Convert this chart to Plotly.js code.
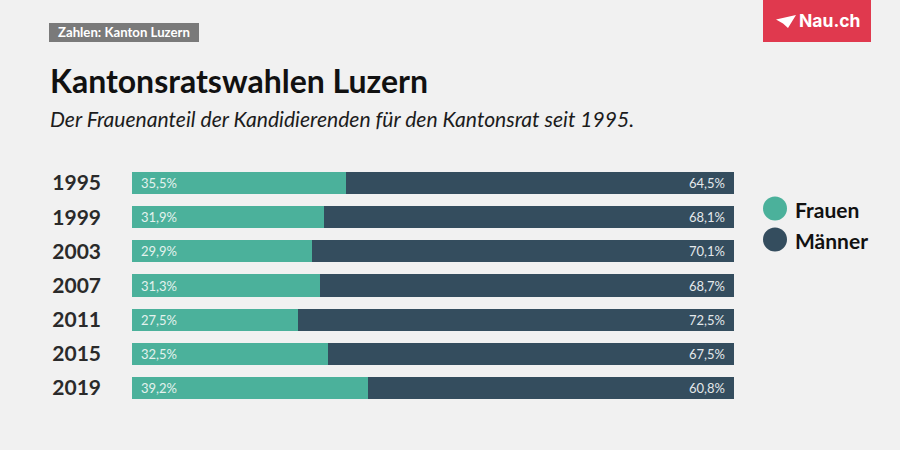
<!DOCTYPE html>
<html><head><meta charset="utf-8">
<script src="https://cdn.plot.ly/plotly-3.0.1.min.js"></script>
<style>html,body{margin:0;padding:0;background:#f1f1f1}</style></head>
<body><div id="chart" style="width:900px;height:450px"></div>
<script>
const years = ['1995','1999','2003','2007','2011','2015','2019'];
const frauen = [35.5,31.9,29.9,31.3,27.5,32.5,39.2];
const maenner = [64.5,68.1,70.1,68.7,72.5,67.5,60.8];
const green = '#4bb19b', dark = '#344d5e', bg = '#f1f1f1', red = '#e0394e';
const F = 'Lato, sans-serif';
const px = x => x/900, py = y => 1-y/450;
const fmt = v => v.toFixed(1).replace('.', ',') + '%';

const traces = [
  {type:'bar',orientation:'h',name:'Frauen',y:years,x:frauen,marker:{color:green},hoverinfo:'skip'},
  {type:'bar',orientation:'h',name:'Männer',y:years,x:maenner,marker:{color:dark},hoverinfo:'skip'}
];
const anns = [];
years.forEach((yr,i)=>{
  anns.push({x:0,y:i,xref:'x',yref:'y',text:fmt(frauen[i]),showarrow:false,xanchor:'left',xshift:7,font:{family:F,size:13,color:'#e4f2ee'}});
  anns.push({x:100,y:i,xref:'x',yref:'y',text:fmt(maenner[i]),showarrow:false,xanchor:'right',xshift:-7,font:{family:F,size:13,color:'#e3e8eb'}});
});
const pa = (x,y,text,size,color,extra) => Object.assign({xref:'paper',yref:'paper',x:px(x),y:py(y),text,showarrow:false,xanchor:'left',yanchor:'middle',borderpad:0,font:{family:F,size,color}},extra||{});
anns.push(pa(57,32.5,'<b>Zahlen: Kanton Luzern</b>',13.2,'#ffffff'));
anns.push(pa(49,81,'<b>Kantonsratswahlen Luzern</b>',32,'#111111'));
anns.push(pa(49,118,'<i>Der Frauenanteil der Kandidierenden für den Kantonsrat seit 1995.</i>',21.1,'#1c1c1c'));
anns.push(pa(793.5,209,'<b>Frauen</b>',21,'#111111'));
anns.push(pa(793.5,240,'<b>Männer</b>',21,'#111111'));
anns.push(pa(798,21,'<b>Nau.ch</b>',18.5,'#ffffff',{font:{family:'Inter, Lato, sans-serif',size:17.5,color:'#ffffff',weight:900}}));

const rect=(x0,y0,x1,y1,c)=>({type:'rect',xref:'paper',yref:'paper',x0:px(x0),x1:px(x1),y0:py(y0),y1:py(y1),fillcolor:c,line:{width:0},layer:'below'});
const circ=(cx,cy,r,c)=>({type:'circle',xref:'paper',yref:'paper',x0:px(cx-r),x1:px(cx+r),y0:py(cy-r),y1:py(cy+r),fillcolor:c,line:{width:0},layer:'above'});
const pts=[[776,19.5],[796,15],[788,28],[783,23.5]];
const plane='M '+pts.map(p=>px(p[0])+' '+py(p[1])).join(' L ')+' Z';
const shapes=[
  rect(49,23,199,42,'#7a7a7a'),
  rect(763,0,871,42,red),
  circ(775,208.5,12,green),
  circ(775,239.5,12,dark),
  {type:'path',xref:'paper',yref:'paper',path:plane,fillcolor:'#ffffff',line:{width:0},layer:'above'}
];
const layout={
  width:900,height:450,margin:{l:0,r:0,t:0,b:0,pad:0},
  paper_bgcolor:bg,plot_bgcolor:bg,barmode:'stack',bargap:0.356,showlegend:false,
  xaxis:{domain:[px(132),px(734)],range:[0,100],visible:false,fixedrange:true},
  yaxis:{domain:[py(405.1),py(165.9)],type:'category',categoryorder:'array',categoryarray:years,range:[6.5,-0.5],
    showgrid:false,zeroline:false,showline:false,ticks:'',ticklabelstandoff:30,
    tickfont:{family:F,size:21,color:'#2a2a2a',weight:700},fixedrange:true},
  annotations:anns,shapes:shapes
};
Plotly.newPlot('chart',traces,layout,{displayModeBar:false,staticPlot:true});
</script></body></html>
